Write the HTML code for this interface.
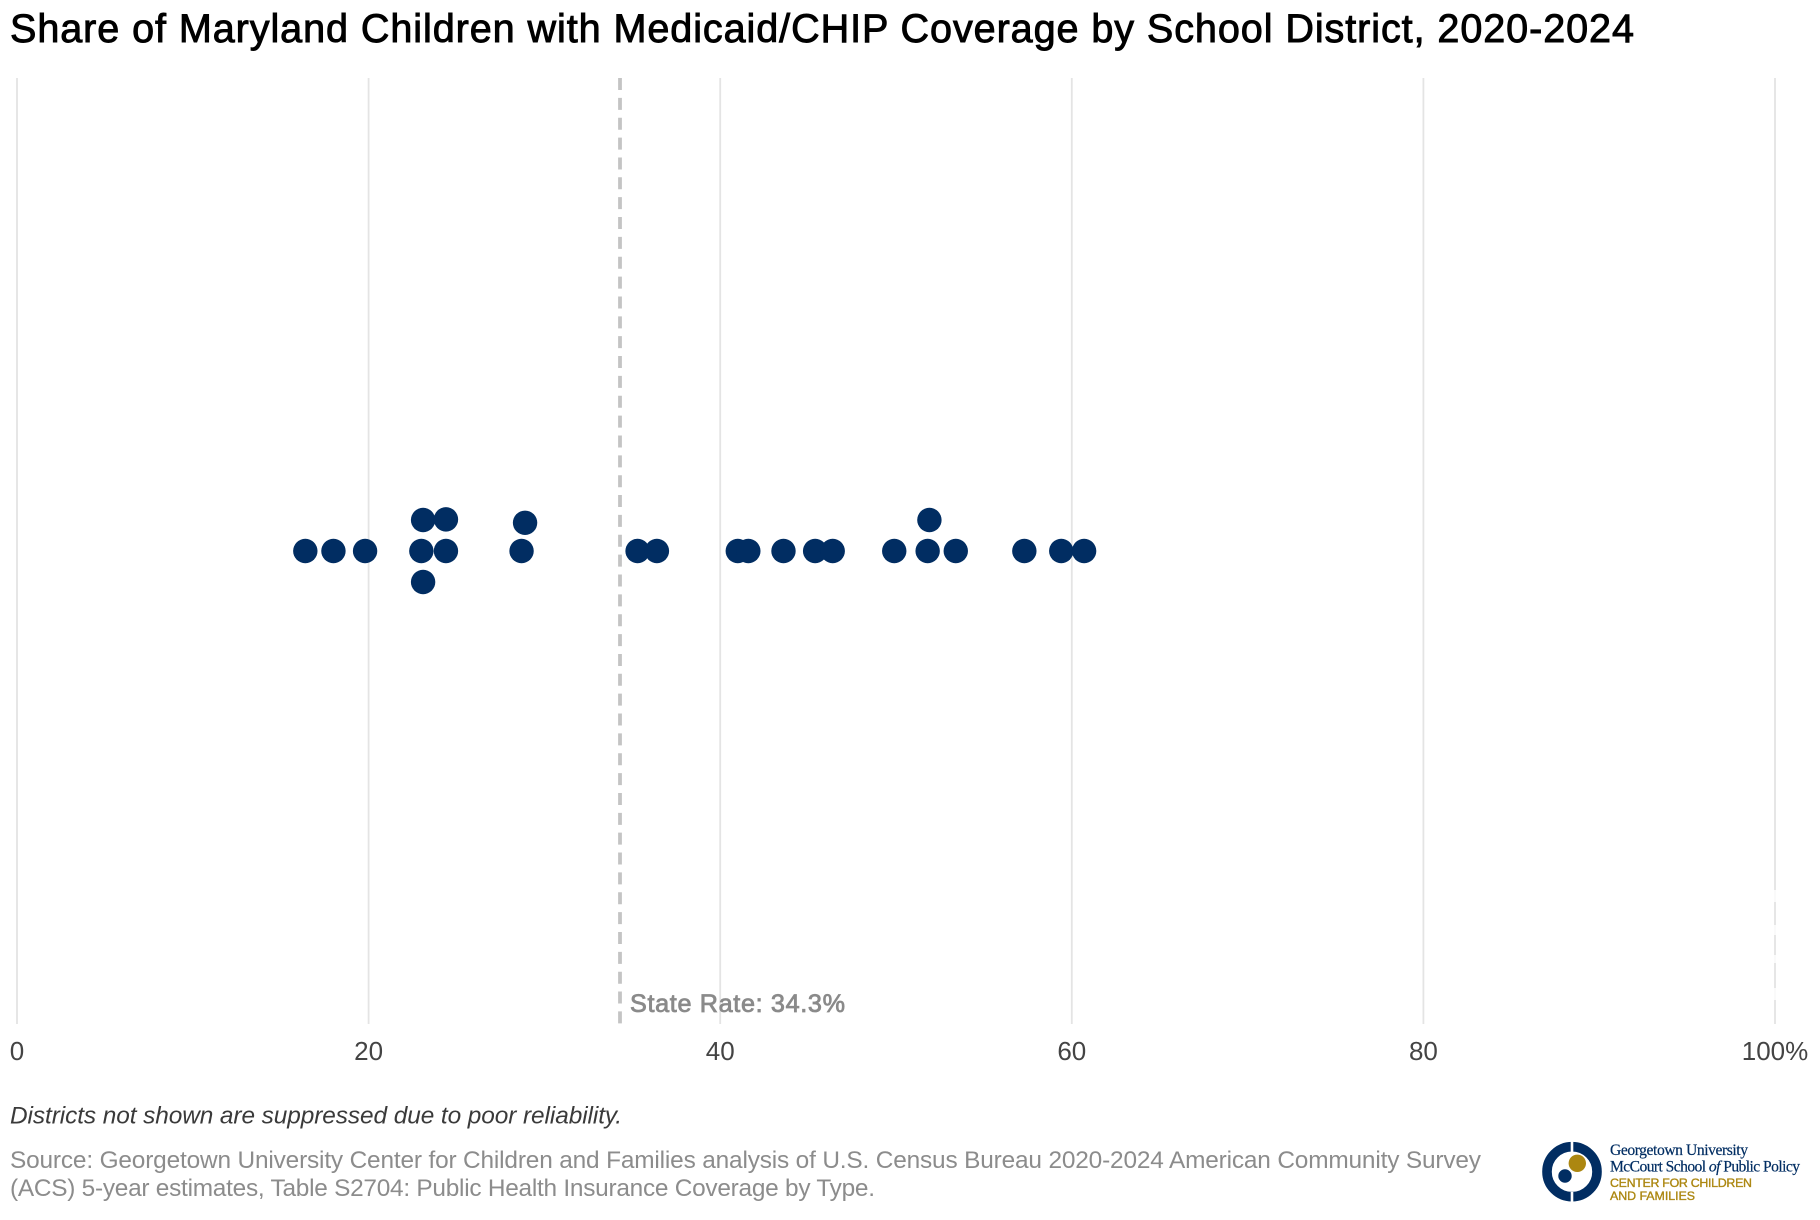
<!DOCTYPE html>
<html lang="en">
<head>
<meta charset="utf-8">
<title>Share of Maryland Children with Medicaid/CHIP Coverage by School District, 2020-2024</title>
<style>
html,body{margin:0;padding:0;background:#fff;}
body{width:1820px;height:1220px;overflow:hidden;}
svg{display:block;font-family:"Liberation Sans",Arial,sans-serif;}
</style>
</head>
<body>
<svg id="chart" width="1820" height="1220" viewBox="0 0 1820 1220" xmlns="http://www.w3.org/2000/svg">
  <rect x="0" y="0" width="1820" height="1220" fill="#ffffff"/>
  <text x="10" y="42" font-size="39.6" fill="#000" stroke="#000" stroke-width="0.9" textLength="1624" lengthAdjust="spacing">Share of Maryland Children with Medicaid/CHIP Coverage by School District, 2020-2024</text>
  <g id="grid"></g>
  <g fill="#ffffff" opacity="0.8">
    <rect x="1773" y="890" width="4" height="12"/>
    <rect x="1773" y="925" width="4" height="10"/>
    <rect x="1773" y="955" width="4" height="8"/>
    <rect x="1773" y="988" width="4" height="12"/>
  </g>
  <g id="ticks"></g>
  <line id="stateLine" y1="78" y2="1024" stroke="#c4c4c4" stroke-width="3.8" stroke-dasharray="12 7.86"></line>
  <text id="stateLabel" x="630" y="1012" font-size="25.2" fill="#8a8a8a" stroke="#8a8a8a" stroke-width="0.8" textLength="215" lengthAdjust="spacing">State Rate: 34.3%</text>
  <g id="dots"></g>
  <text x="10" y="1123.5" font-size="24.4" font-style="italic" fill="#3a3a3a" textLength="612" lengthAdjust="spacing">Districts not shown are suppressed due to poor reliability.</text>
  <text x="10" y="1168" font-size="24.4" fill="#8c8c8c" textLength="1471" lengthAdjust="spacing">Source: Georgetown University Center for Children and Families analysis of U.S. Census Bureau 2020-2024 American Community Survey</text>
  <text x="10" y="1196" font-size="24.4" fill="#8c8c8c" textLength="865" lengthAdjust="spacing">(ACS) 5-year estimates, Table S2704: Public Health Insurance Coverage by Type.</text>
  <g>
    <circle cx="1572" cy="1171.7" r="25" fill="none" stroke="#012d62" stroke-width="9.6"/>
    <rect x="1570.7" y="1140" width="2.6" height="12" fill="#fff"/>
    <rect x="1570.7" y="1192" width="2.6" height="12" fill="#fff"/>
    <circle cx="1577.3" cy="1163.3" r="8.7" fill="#ac8711"/>
    <circle cx="1565" cy="1176" r="6.7" fill="#012d62"/>
    <text x="1610" y="1155" font-family="'Liberation Serif',serif" font-size="15.6" fill="#012d62" stroke="#012d62" stroke-width="0.2" textLength="138" lengthAdjust="spacing">Georgetown University</text>
    <text x="1610" y="1171.5" font-family="'Liberation Serif',serif" font-size="15.6" fill="#012d62" stroke="#012d62" stroke-width="0.2" textLength="190" lengthAdjust="spacing">McCourt School <tspan font-style="italic">of</tspan> Public Policy</text>
    <text x="1610" y="1187" font-size="12.4" fill="#ac8711" stroke="#ac8711" stroke-width="0.35" textLength="142" lengthAdjust="spacing">CENTER FOR CHILDREN</text>
    <text x="1610" y="1200" font-size="12.4" fill="#ac8711" stroke="#ac8711" stroke-width="0.35" textLength="85" lengthAdjust="spacing">AND FAMILIES</text>
  </g>
</svg>
<script>
const tickValues = [0, 20, 40, 60, 80, 100];
const tickLabels = ["0", "20", "40", "60", "80", "100%"];
const stateRate = [34.3];
const districtShares = [16.4, 18.0, 19.8, 23.0, 23.1, 23.1, 24.4, 24.4, 28.7, 28.9, 35.3, 36.4, 41.0, 41.6, 43.6, 45.4, 46.4, 49.9, 51.8, 51.9, 53.4, 57.3, 59.4, 60.7];
const swarmLanes = [0, 0, 0, 0, 1, -1, 0, 1.02, 0, 0.91, 0, 0, 0, 0, 0, 0, 0, 0, 0, 1, 0, 0, 0, 0];

const NS = "http://www.w3.org/2000/svg";
function xScale(v) { return 17 + v * 17.58; }
function yScale(lane) { return 551 - lane * 31; }
function make(tag, parent, attrs) {
  const el = document.createElementNS(NS, tag);
  for (const k in attrs) el.setAttribute(k, attrs[k]);
  parent.appendChild(el);
  return el;
}
const grid = document.getElementById("grid");
const ticks = document.getElementById("ticks");
const dots = document.getElementById("dots");
tickValues.forEach(function (v, i) {
  const line = make("line", grid, { x1: xScale(v), x2: xScale(v), y1: 78, y2: 1024, stroke: "#e4e4e4", "stroke-width": 1.8 });
  
  
  const t = make("text", ticks, { x: xScale(v), y: 1060, "font-size": 26, fill: "#444", "text-anchor": "middle" });
  
  
  t.textContent = tickLabels[i];
});
const stateLine = document.getElementById("stateLine");
stateLine.setAttribute("x1", xScale(stateRate[0]));
stateLine.setAttribute("x2", xScale(stateRate[0]));
districtShares.forEach(function (v, i) {
  const c = make("circle", dots, { cx: xScale(v), cy: yScale(swarmLanes[i]), r: 12.2, fill: "#012d62" });
  
  
});
</script>
</body>
</html>
